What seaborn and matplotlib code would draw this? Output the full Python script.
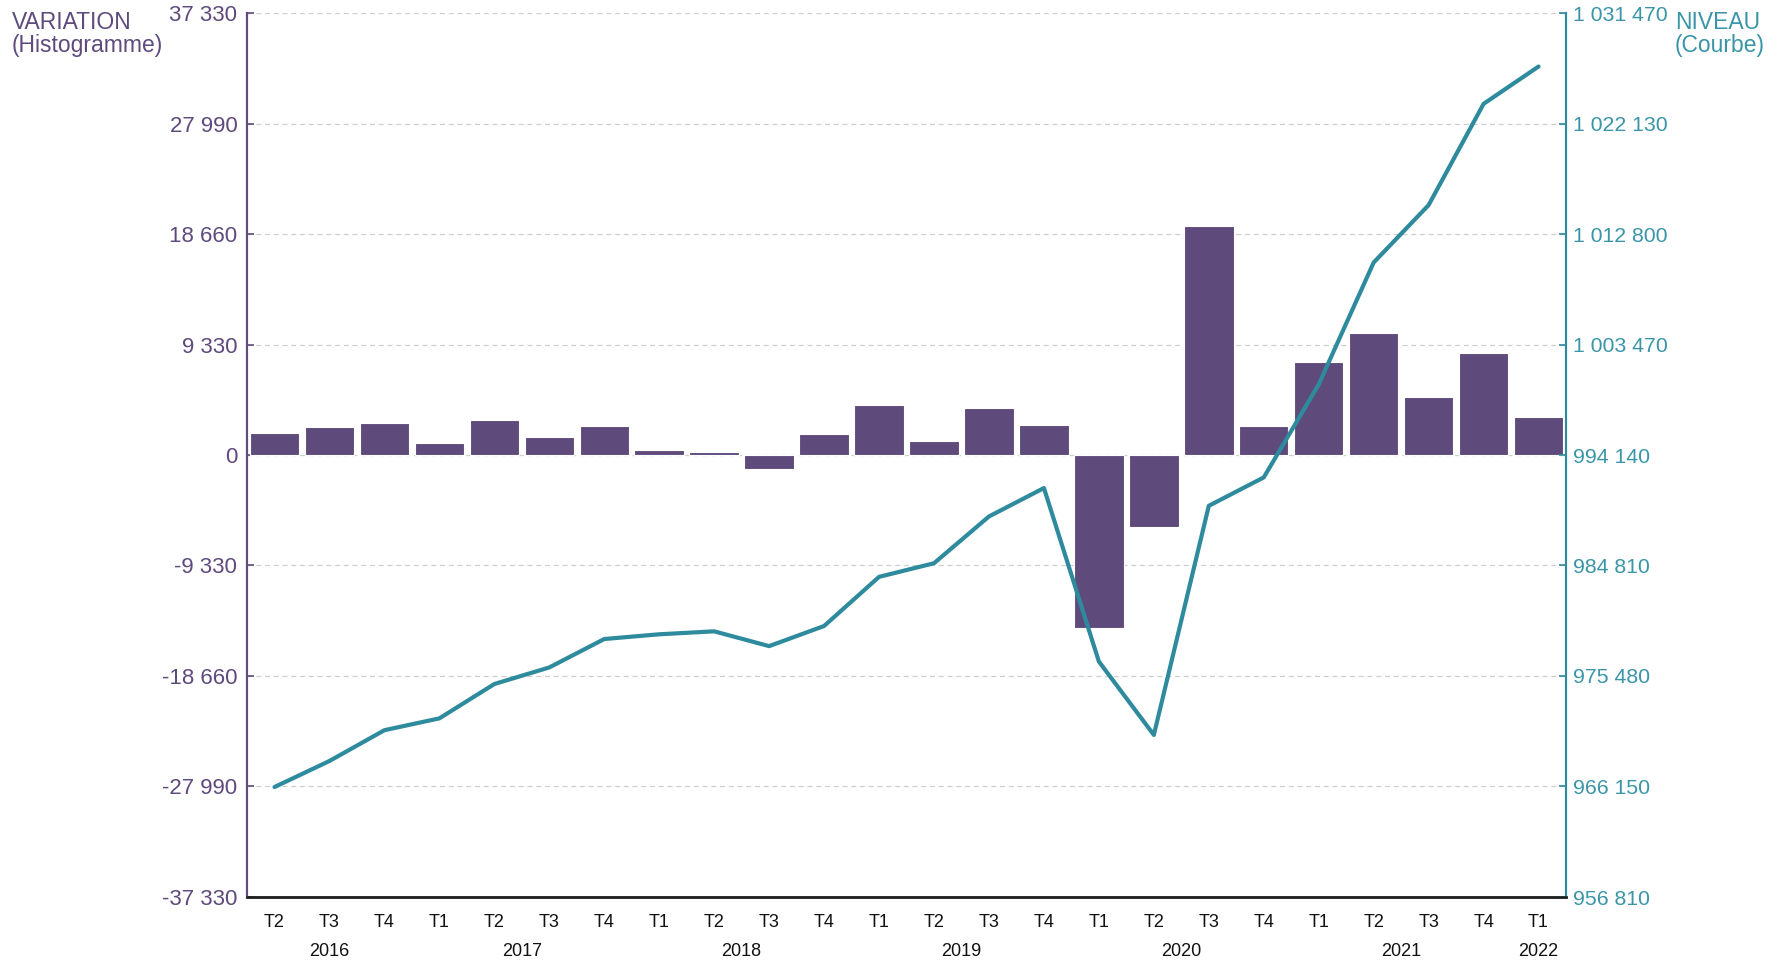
import numpy as np
import pandas as pd
import matplotlib
matplotlib.use("Agg")
import matplotlib.pyplot as plt
import seaborn as sns

# Data
annees = ["2016"] * 3 + ["2017"] * 4 + ["2018"] * 4 + ["2019"] * 4 + ["2020"] * 4 + ["2021"] * 4 + ["2022"]
trimestres = ["T2", "T3", "T4",
              "T1", "T2", "T3", "T4",
              "T1", "T2", "T3", "T4",
              "T1", "T2", "T3", "T4",
              "T1", "T2", "T3", "T4",
              "T1", "T2", "T3", "T4",
              "T1"]
variation = [1880, 2330, 2730, 1040, 2950, 1490, 2420, 450, 250, -1210, 1770, 4200,
             1150, 4000, 2500, -14620, -6090, 19380, 2450, 7880, 10340, 4870, 8590, 3180]
niveau = [966100, 968300, 970900, 971900, 974800, 976200, 978600, 979000, 979250, 978000,
          979700, 983850, 985000, 988950, 991350, 976700, 970500, 989850, 992250, 1000100,
          1010400, 1015250, 1023800, 1026950]

left_ticks = [-37330, -27990, -18660, -9330, 0, 9330, 18660, 27990, 37330]
right_ticks = [956810, 966150, 975480, 984810, 994140, 1003470, 1012800, 1022130, 1031470]

df = pd.DataFrame({
    "periode": [f"{a}-{t}" for a, t in zip(annees, trimestres)],
    "annee": annees,
    "trimestre": trimestres,
    "variation": variation,
    "niveau": niveau,
})
df["pos"] = np.arange(len(df))

PURPLE = "#5F4B7B"
PURPLE_TXT = "#5E4A7D"
TEAL = "#2E8A9D"
TEAL_TXT = "#3A95A8"


def fmt(v):
    return f"{v:,}".replace(",", " ")


sns.set_style("white")
plt.rcParams["font.family"] = ["Liberation Sans", "DejaVu Sans"]

fig = plt.figure(figsize=(17.81, 9.63), dpi=100)
ax = fig.add_axes([0.1387, 0.0685, 0.7406, 0.918])

# Histogram (variation)
sns.barplot(data=df, x="periode", y="variation", color=PURPLE, saturation=1,
            width=0.9, edgecolor="white", linewidth=0.8, ax=ax, zorder=2)
ax.set_xlim(-0.5, len(df) - 0.5)
ax.set_ylim(left_ticks[0], left_ticks[-1])
ax.set_yticks(left_ticks)
ax.set_yticklabels([fmt(v) for v in left_ticks], color=PURPLE_TXT, fontsize=16)
ax.set_xticks(df["pos"])
ax.set_xticklabels(df["trimestre"], fontsize=13, color="#111111")
ax.set_xlabel("")
ax.set_ylabel("")
ax.tick_params(axis="y", direction="in", length=5, width=1.2, color=PURPLE, pad=7)
ax.tick_params(axis="x", direction="in", length=6, width=1.2, color="#222222", pad=12)
for y in left_ticks:
    ax.axhline(y, color="#cfcfcf", linestyle=(0, (4, 3)), linewidth=0.9, zorder=0)

# Curve (niveau)
ax2 = ax.twinx()
sns.lineplot(data=df, x="pos", y="niveau", color=TEAL, linewidth=3, ax=ax2)
ax2.set_ylim(right_ticks[0], right_ticks[-1])
ax2.set_yticks(right_ticks)
ax2.set_yticklabels([fmt(v) for v in right_ticks], color=TEAL_TXT, fontsize=15.3)
ax2.set_xlim(-0.5, len(df) - 0.5)
ax2.set_ylabel("")
ax2.set_xlabel("")
ax2.tick_params(axis="y", direction="in", length=5, width=1.2, color=TEAL, pad=5)

for a in (ax, ax2):
    a.spines["top"].set_visible(False)
    a.spines["left"].set_color(PURPLE)
    a.spines["left"].set_linewidth(1.5)
    a.spines["right"].set_color(TEAL)
    a.spines["right"].set_linewidth(1.5)
    a.spines["bottom"].set_color("#222222")
    a.spines["bottom"].set_linewidth(1.8)

# Year labels under the quarters
for annee, grp in df.groupby("annee"):
    ax.text(grp["pos"].mean(), -0.062, annee, transform=ax.get_xaxis_transform(),
            ha="center", va="center", fontsize=13, color="#111111")

fig.text(0.0065, 0.989, "VARIATION\n(Histogramme)", color=PURPLE_TXT, fontsize=16.5,
         ha="left", va="top", linespacing=1.05)
fig.text(0.9405, 0.989, "NIVEAU\n(Courbe)", color=TEAL_TXT, fontsize=16.5,
         ha="left", va="top", linespacing=1.05)

fig.savefig("out.png", dpi=100)
